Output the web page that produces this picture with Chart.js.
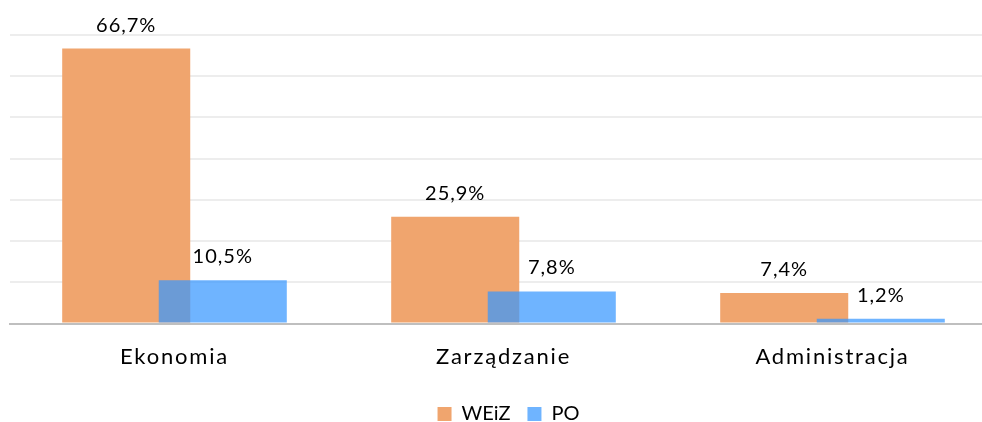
<!DOCTYPE html>
<html>
<head>
<meta charset="utf-8">
<script src="https://cdn.jsdelivr.net/npm/chart.js@4"></script>
<style>
    html, body { margin: 0; padding: 0; background: #fff; overflow: hidden; }
    #caja { position: relative; width: 997px; height: 422px; }
</style>
</head>
<body>
<div id="caja"><canvas id="myChart"></canvas></div>
<script>
//datos del grafico
const categorias = ['Ekonomia', 'Zarządzanie', 'Administracja'];
const valoresWEiZ = [66.7, 25.9, 7.4];
const valoresPO = [10.5, 7.8, 1.2];
const series = ['WEiZ', 'PO'];

//etiquetas encima de las barras
const etiquetasBarras = {
    id: 'etiquetasBarras',
    afterDatasetsDraw(chart) {
        const ctx = chart.ctx;
        ctx.save();
        ctx.font = '20px Lato';
        ctx.letterSpacing = '1px';
        ctx.fillStyle = '#000';
        ctx.textAlign = 'center';
        ctx.textBaseline = 'alphabetic';
        chart.data.datasets.forEach((ds, i) => {
            chart.getDatasetMeta(i).data.forEach((bar, j) => {
                let txt = ds.data[j].toFixed(1).replace('.', ',') + '%';
                ctx.fillText(txt, bar.x, bar.y - 17);
            });
        });
        ctx.restore();
    }
};

//la serie PO se dibuja encima de WEiZ (Chart.js lo hace al revés)
const ordenDibujo = {
    id: 'ordenDibujo',
    beforeDatasetDraw(chart, args) {
        if (args.index === 1) return false;
    },
    afterDatasetDraw(chart, args) {
        if (args.index === 0) {
            chart.getDatasetMeta(1).controller.draw();
        }
    }
};

//ajustes de leyenda y etiquetas del eje x
const ajustes = {
    id: 'ajustes',
    afterLayout(chart) {
        chart.legend.left += 5;
        chart.legend.right += 5;
        chart.legend.top += 5;
        chart.legend.bottom += 5;

        const ejeX = chart.scales.x;
        if (!ejeX._parcheado) {
            const original = ejeX.drawLabels;
            ejeX.drawLabels = function (area) {
                const ctx = this.ctx;
                ctx.save();
                ctx.letterSpacing = '1.8px';
                original.call(this, area);
                ctx.restore();
            };
            ejeX._parcheado = true;
        }
    }
};

function graficaBarras() {
    const data = {
        labels: categorias,
        datasets: [{
            label: series[0],
            data: valoresWEiZ,
            backgroundColor: 'rgb(240, 165, 110)',
            barPercentage: 1.326,
            categoryPercentage: 0.587
        }, {
            label: series[1],
            data: valoresPO,
            backgroundColor: 'rgba(56, 151, 255, 0.72)',
            barPercentage: 1.326,
            categoryPercentage: 0.587
        }]
    };

    const config = {
        type: 'bar',
        data: data,
        options: {
            responsive: true,
            maintainAspectRatio: false,
            animation: false,
            layout: {
                padding: { left: 10, top: 35, right: 0, bottom: -7 }
            },
            plugins: {
                legend: {
                    position: 'bottom',
                    labels: {
                        font: { family: 'Lato', size: 20 },
                        color: '#000',
                        boxWidth: 14,
                        boxHeight: 14,
                        padding: 17
                    }
                },
                tooltip: { enabled: false }
            },
            scales: {
                x: {
                    grid: { display: false },
                    border: { color: '#BFBFBF', width: 2 },
                    ticks: {
                        font: { family: 'Lato', size: 22 },
                        color: '#000',
                        padding: 12
                    }
                },
                y: {
                    min: 0,
                    max: 70,
                    ticks: { display: false, stepSize: 10 },
                    grid: { color: '#EDEDED', lineWidth: 2, drawTicks: false },
                    border: { display: false }
                }
            }
        },
        plugins: [etiquetasBarras, ordenDibujo, ajustes]
    };

    const ctx = document.getElementById('myChart').getContext('2d');
    new Chart(ctx, config);
}

document.addEventListener('DOMContentLoaded', function () {
    graficaBarras();
});
</script>
</body>
</html>
